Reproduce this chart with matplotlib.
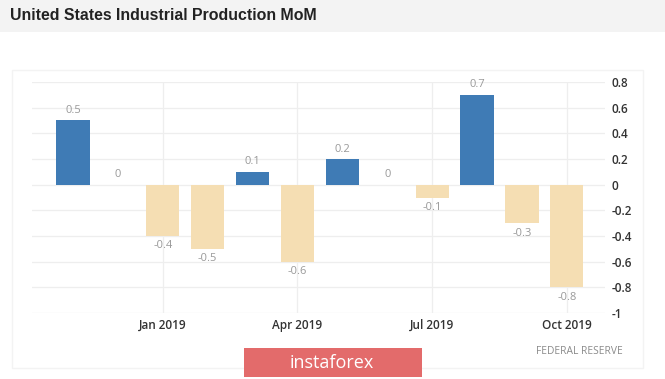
import matplotlib

matplotlib.use("Agg")
import matplotlib.pyplot as plt
from matplotlib.patches import Rectangle

# monthly change, Nov 2018 .. Oct 2019
months = ["Nov 2018", "Dec 2018", "Jan 2019", "Feb 2019", "Mar 2019", "Apr 2019",
          "May 2019", "Jun 2019", "Jul 2019", "Aug 2019", "Sep 2019", "Oct 2019"]
values = [0.5, 0, -0.4, -0.5, 0.1, -0.6, 0.2, 0, -0.1, 0.7, -0.3, -0.8]
tick_months = ["Jan 2019", "Apr 2019", "Jul 2019", "Oct 2019"]
yticks = [-1, -0.8, -0.6, -0.4, -0.2, 0, 0.2, 0.4, 0.6, 0.8]

W, H = 665, 379
BLUE = "#3f7bb5"
WHEAT = "#f5deb3"


def fx(px):
    return px / W


def fy(py):
    return 1 - py / H


def fmt(v):
    s = f"{v:g}"
    return "0" if s in ("0", "-0") else s


fig = plt.figure(figsize=(W / 100, H / 100), dpi=100)
fig.patch.set_facecolor("white")

# header band + title
fig.patches.append(Rectangle((0, fy(32)), 1, 32 / H, transform=fig.transFigure,
                             facecolor="#f3f3f3", edgecolor="none", zorder=0))
fig.text(fx(10), fy(15), "United States Industrial Production MoM", family="Liberation Sans",
         fontsize=11.4, fontweight="bold", color="#222222", va="center", ha="left")

# faint chart frame
fig.patches.append(Rectangle((fx(12), fy(368)), fx(643) - fx(12), (368 - 70) / H,
                             transform=fig.transFigure, facecolor="none",
                             edgecolor="#f3f3f3", linewidth=1, zorder=0))

ax = fig.add_axes([fx(32), fy(313), fx(605) - fx(32), (313 - 82) / H])
x = list(range(len(months)))
colors = [BLUE if v > 0 else WHEAT for v in values]
ax.bar(x, values, width=0.74, color=colors, zorder=2)

for xi, v in zip(x, values):
    off = -10 if v < 0 else 10
    ax.annotate(fmt(v), (xi, v), textcoords="offset pixels", xytext=(0, off),
                ha="center", va="center", fontsize=8, color="#999999", family="Open Sans")

ax.set_xlim(-0.913, 11.85)
ax.set_ylim(-1, 0.8)
ax.set_yticks(yticks)
ax.set_yticklabels([fmt(v) for v in yticks])
ax.yaxis.tick_right()
ax.set_xticks([months.index(m) for m in tick_months])
ax.set_xticklabels(tick_months)
ax.tick_params(length=0, labelsize=8.5, labelcolor="#333333")
ax.tick_params(axis="y", pad=4.5)
ax.tick_params(axis="x", pad=4)
for lab in ax.get_xticklabels() + ax.get_yticklabels():
    lab.set_family("Open Sans")
    lab.set_fontweight("semibold")
ax.grid(True, color="#eeeeee", linewidth=0.9, zorder=0)
ax.set_axisbelow(True)
for s in ax.spines.values():
    s.set_visible(False)

# source + logo
fig.text(fx(536), fy(352), "FEDERAL RESERVE", fontsize=7.4, color="#8a8a8a",
         family="Open Sans", ha="left", va="center")
fig.patches.append(Rectangle((fx(244), fy(377)), fx(422) - fx(244), (377 - 348) / H,
                             transform=fig.transFigure, facecolor="#e36b6b",
                             edgecolor="none", zorder=1))
fig.text(fx(332), fy(363), "instaforex", fontsize=13, color="white",
         family="Open Sans", ha="center", va="center", zorder=2)

fig.savefig("out.png", dpi=100)
